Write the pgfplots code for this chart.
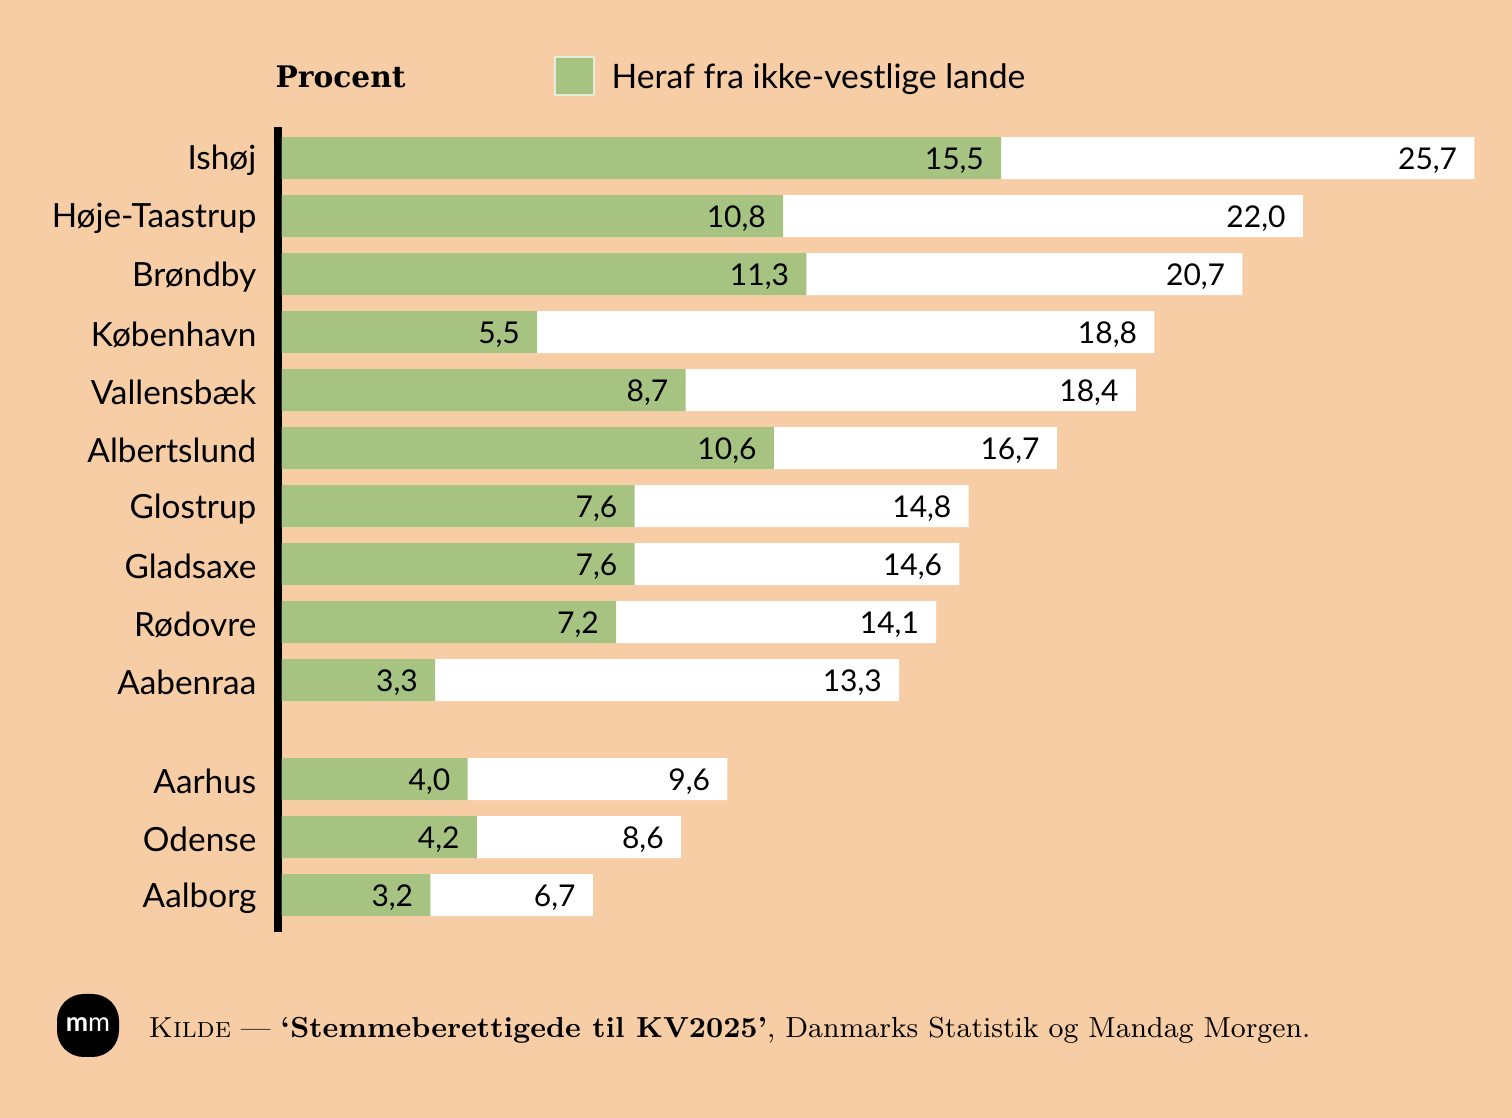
\documentclass[border=0pt]{standalone}
\usepackage{pgfplots}
\pgfplotsset{compat=1.18}
\usepackage{pgfplotstable}
\usepackage{fontspec}
\newfontfamily\lato{Lato}
\newfontfamily\slab{DejaVu Serif}

\definecolor{bg}{RGB}{247,205,165}
\definecolor{barg}{RGB}{166,195,130}

% position (row), share from non-western countries, total
\pgfplotstableread{
pos   part  total
0     15.5  25.7
1     10.8  22.0
2     11.3  20.7
3     5.5   18.8
4     8.7   18.4
5     10.6  16.7
6     7.6   14.8
7     7.6   14.6
8     7.2   14.1
9     3.3   13.3
10.71 4.0   9.6
11.71 4.2   8.6
12.71 3.2   6.7
}\data

\begin{document}
\begin{tikzpicture}
\useasboundingbox (0pt,0pt) rectangle (453.6pt,335.4pt);
\fill[bg] (0pt,0pt) rectangle (453.6pt,335.4pt);

\begin{axis}[
    at={(84.6pt,288pt)}, anchor=origin,
    x=13.92pt, y=17.4pt, y dir=reverse,
    xmin=-0.086, xmax=26, ymin=-0.534, ymax=13.34,
    axis x line=none, axis y line=left,
    axis line style={-, line width=2.4pt, black},
    major tick length=0pt,
    xtick=\empty,
    ytick={0,1,2,3,4,5,6,7,8,9,10.71,11.71,12.71},
    yticklabels={Ishøj,Høje-Taastrup,Brøndby,København,Vallensbæk,Albertslund,Glostrup,Gladsaxe,Rødovre,Aabenraa,Aarhus,Odense,Aalborg},
    yticklabel style={font=\lato\fontsize{10}{12}\selectfont, anchor=east, inner sep=0pt, xshift=-6.3pt, yshift=-0.8pt},
    clip=false,
    xbar, bar width=12.6pt, bar shift=0pt,
    /pgf/number format/assume math mode=true,
    nodes near coords={\pgfmathprintnumber[use comma,fixed,fixed zerofill,precision=1]{\pgfplotspointmeta}},
    every node near coord/.append style={anchor=east, inner sep=0pt, xshift=-5pt, yshift=-0.7pt, text=black, font=\lato\fontsize{9}{11}\selectfont},
]
\addplot[fill=white, draw=none] table[x=total, y=pos] {\data};
\addplot[fill=barg, draw=none] table[x=part, y=pos] {\data};
\end{axis}

% header
\node[anchor=base west, inner sep=0pt, font=\slab\bfseries\fontsize{8.9}{11}\selectfont] at (82.5pt,309pt) {Procent};
\fill[barg, draw=white!70!barg, line width=0.4pt] (166.5pt,306.9pt) rectangle (178.2pt,318.3pt);
\node[anchor=base west, inner sep=0pt, font=\lato\fontsize{10.1}{12}\selectfont] at (183.3pt,308.7pt) {Heraf fra ikke-vestlige lande};

% source
\fill[black, rounded corners=8pt] (17.1pt,18.3pt) rectangle (35.7pt,37.2pt);
\node[white, inner sep=0pt, font=\lato\fontsize{8}{9}\selectfont] at (26.4pt,27.9pt) {\textbf{m}m};
\node[anchor=base west, inner sep=0pt, font=\fontsize{8.7}{11}\selectfont] at (44.4pt,24pt)
  {\textsc{Kilde} — \textbf{‘Stemmeberettigede til KV2025’}, Danmarks Statistik og Mandag Morgen.};
\end{tikzpicture}
\end{document}
